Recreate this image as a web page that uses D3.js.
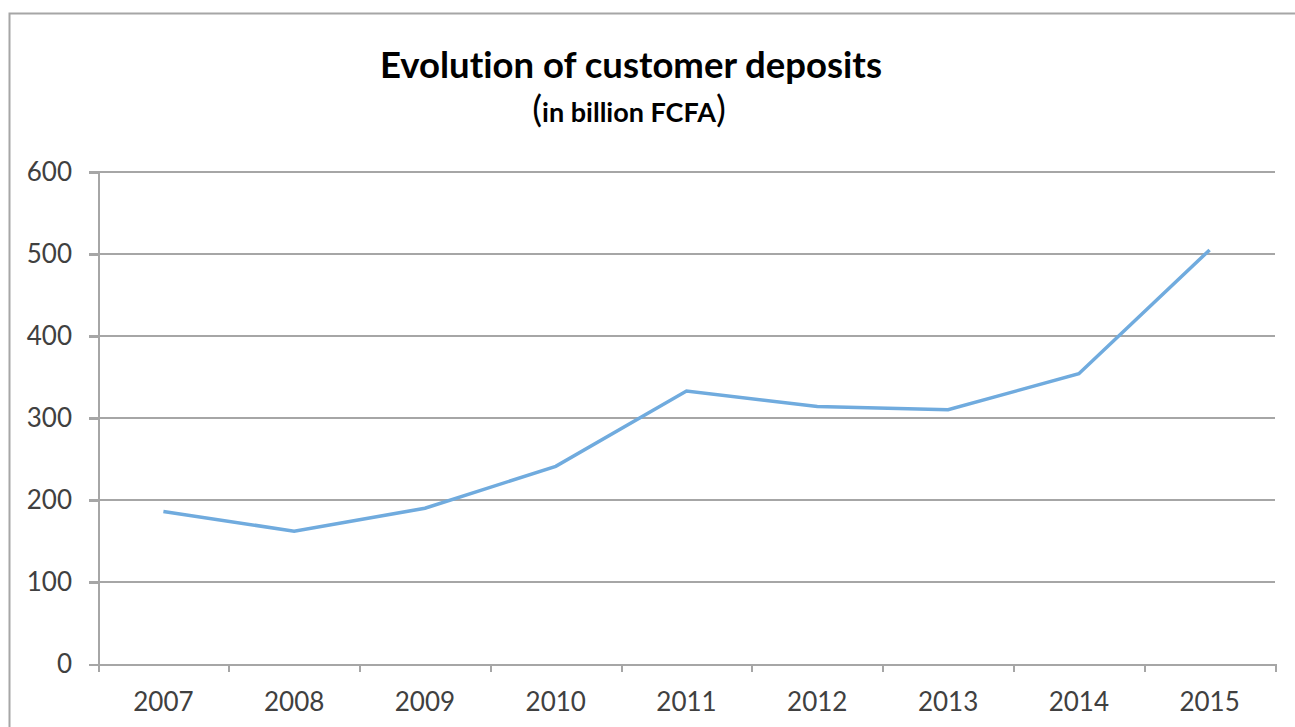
<!DOCTYPE html>
<html lang="en">
	<head>
		<meta charset="utf-8">
		<title>Evolution of customer deposits</title>
		<style type="text/css">
			body {
				margin: 0;
				background-color: white;
				font-family: Lato, "Liberation Sans", sans-serif;
			}
			svg text {
				font-variant-ligatures: none;
			}
			.grid line {
				stroke: #a6a6a6;
				stroke-width: 2;
				shape-rendering: crispEdges;
			}
			.axis path,
			.axis line {
				fill: none;
				stroke: #a6a6a6;
				stroke-width: 2;
				shape-rendering: crispEdges;
			}
			.axis text {
				font-family: Lato, "Liberation Sans", sans-serif;
				font-size: 26px;
				fill: #404040;
			}
			.line {
				fill: none;
				stroke: #70abde;
				stroke-width: 3.5;
			}
			.title {
				font-size: 36.5px;
				font-weight: bold;
				fill: #000;
			}
			.subtitle {
				font-size: 27px;
				font-weight: bold;
				fill: #000;
			}
		</style>
	</head>
	<body>
	<script src="https://cdn.jsdelivr.net/npm/d3@7"></script>
	<script type="text/javascript">

		var years = ["2007", "2008", "2009", "2010", "2011", "2012", "2013", "2014", "2015"];
		var deposits = [186, 162, 190, 241, 333, 314, 310, 354, 505];
		var yTicks = [0, 100, 200, 300, 400, 500, 600];

		var fullwidth = 1295;
		var fullheight = 727;
		var margin = { top: 172, right: 20, bottom: 63, left: 98 };
		var width = 1275 - margin.left;
		var height = 664 - margin.top;

		var svg = d3.select("body")
			.append("svg")
			.attr("width", fullwidth)
			.attr("height", fullheight);

		// chart frame (right and bottom sides are off the page)
		svg.append("rect")
			.attr("x", 9.5)
			.attr("y", 13.5)
			.attr("width", 1400)
			.attr("height", 800)
			.style("fill", "none")
			.style("stroke", "#a6a6a6")
			.style("stroke-width", 2);

		svg.append("text")
			.attr("class", "title")
			.attr("x", 631)
			.attr("y", 78)
			.style("text-anchor", "middle")
			.text("Evolution of customer deposits");

		var sub = svg.append("text")
			.attr("class", "subtitle")
			.attr("x", 629)
			.attr("y", 122)
			.style("text-anchor", "middle");
		sub.append("tspan").style("font-size", "37px").style("font-weight", "normal").text("(");
		sub.append("tspan").text("in billion FCFA");
		sub.append("tspan").style("font-size", "37px").style("font-weight", "normal").text(")");

		var g = svg.append("g")
			.attr("transform", "translate(" + margin.left + "," + margin.top + ")");

		var xScale = d3.scaleBand()
			.domain(years)
			.range([0, width])
			.padding(0);

		// boundaries between categories, for the tick marks
		var xEdge = d3.scaleLinear()
			.domain([0, years.length])
			.range([0, width]);

		var yScale = d3.scaleLinear()
			.domain([0, 600])
			.range([height, 0]);

		// horizontal gridlines
		g.append("g")
			.attr("class", "grid")
			.selectAll("line")
			.data(yTicks.filter(function(d) { return d > 0; }))
			.enter()
			.append("line")
			.attr("x1", -9)
			.attr("x2", width)
			.attr("y1", function(d) { return yScale(d); })
			.attr("y2", function(d) { return yScale(d); });

		g.append("g")
			.attr("class", "y axis")
			.call(d3.axisLeft(yScale).tickValues(yTicks).tickSize(9).tickPadding(17).tickSizeOuter(0));

		g.append("g")
			.attr("class", "x axis")
			.attr("transform", "translate(0," + height + ")")
			.call(d3.axisBottom(xEdge).tickValues(d3.range(years.length + 1)).tickSize(8).tickFormat("").tickSizeOuter(0));

		g.append("g")
			.attr("class", "x axis labels")
			.attr("transform", "translate(0," + height + ")")
			.call(d3.axisBottom(xScale).tickSize(0).tickPadding(29))
			.select(".domain").remove();

		var line = d3.line()
			.x(function(d, i) { return xScale(years[i]) + xScale.bandwidth() / 2; })
			.y(function(d) { return yScale(d); });

		g.append("path")
			.datum(deposits)
			.attr("class", "line")
			.attr("d", line);

	</script>
	</body>
</html>
